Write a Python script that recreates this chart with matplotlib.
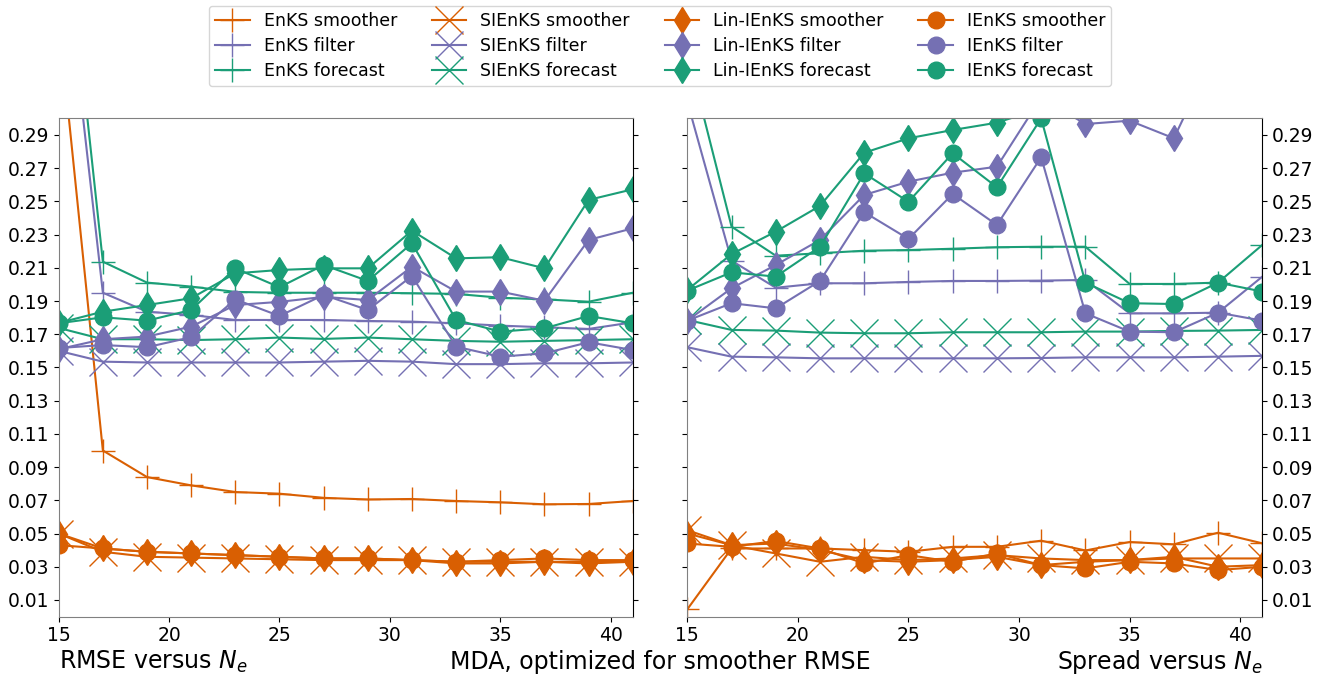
"""
Smoother / filter / forecast RMSE and spread versus ensemble size, MDA configuration.
"""
import matplotlib
matplotlib.use('Agg')
import matplotlib.pyplot as plt

# ensemble sizes on the x axis
ensemble_sizes = [15, 17, 19, 21, 23, 25, 27, 29, 31, 33, 35, 37, 39, 41]

# ---- RMSE (left panel) ----
enks_smoother_rmse = [0.360, 0.100, 0.084, 0.079, 0.075, 0.074, 0.0715, 0.0705, 0.0708, 0.0696, 0.0688, 0.0676, 0.0678, 0.0696]
enks_filter_rmse = [0.430, 0.195, 0.1836, 0.1816, 0.1786, 0.1786, 0.1786, 0.178, 0.1776, 0.1766, 0.1752, 0.1742, 0.1732, 0.1772]
enks_forecast_rmse = [0.460, 0.2137, 0.2011, 0.1987, 0.1955, 0.195, 0.195, 0.195, 0.1947, 0.1943, 0.192, 0.191, 0.1896, 0.195]

sienks_smoother_rmse = [0.050, 0.039, 0.036, 0.0355, 0.035, 0.0345, 0.034, 0.034, 0.034, 0.033, 0.033, 0.033, 0.033, 0.033]
sienks_filter_rmse = [0.160, 0.1535, 0.153, 0.153, 0.153, 0.153, 0.1535, 0.154, 0.1535, 0.152, 0.152, 0.1525, 0.1525, 0.153]
sienks_forecast_rmse = [0.1738, 0.167, 0.167, 0.1665, 0.167, 0.168, 0.1672, 0.168, 0.167, 0.166, 0.1655, 0.166, 0.1665, 0.167]

lin_ienks_smoother_rmse = [0.050, 0.041, 0.039, 0.038, 0.037, 0.036, 0.035, 0.035, 0.034, 0.032, 0.032, 0.033, 0.032, 0.033]
lin_ienks_filter_rmse = [0.161, 0.167, 0.1686, 0.1746, 0.1876, 0.1895, 0.1925, 0.1906, 0.2107, 0.1957, 0.1957, 0.1902, 0.2268, 0.2338]
lin_ienks_forecast_rmse = [0.1768, 0.1836, 0.1876, 0.1917, 0.2067, 0.2087, 0.2097, 0.2097, 0.2324, 0.2157, 0.2164, 0.2097, 0.2509, 0.2573]

ienks_smoother_rmse = [0.043, 0.041, 0.039, 0.038, 0.037, 0.036, 0.035, 0.035, 0.034, 0.033, 0.034, 0.035, 0.034, 0.034]
ienks_filter_rmse = [0.1617, 0.1635, 0.1622, 0.1682, 0.191, 0.181, 0.1937, 0.1846, 0.2051, 0.1625, 0.1565, 0.1585, 0.1652, 0.1605]
ienks_forecast_rmse = [0.1766, 0.1802, 0.1782, 0.1846, 0.2097, 0.1983, 0.2117, 0.2021, 0.2248, 0.1786, 0.1716, 0.1736, 0.181, 0.1766]

# ---- Spread (right panel) ----
enks_smoother_spread = [0.0044, 0.041, 0.041, 0.041, 0.040, 0.039, 0.042, 0.042, 0.0457, 0.0398, 0.0449, 0.0435, 0.0505, 0.0441]
enks_filter_spread = [0.310, 0.2143, 0.198, 0.2007, 0.2007, 0.2015, 0.2021, 0.2021, 0.2023, 0.2027, 0.1826, 0.1826, 0.183, 0.2047]
enks_forecast_spread = [0.340, 0.2348, 0.2173, 0.2188, 0.2203, 0.2207, 0.2215, 0.2224, 0.2227, 0.2227, 0.2003, 0.2003, 0.2011, 0.2238]

sienks_smoother_spread = [0.052, 0.043, 0.038, 0.033, 0.036, 0.034, 0.035, 0.037, 0.035, 0.034, 0.034, 0.035, 0.035, 0.035]
sienks_filter_spread = [0.1622, 0.1565, 0.1561, 0.1555, 0.1555, 0.1555, 0.1555, 0.1555, 0.1557, 0.1561, 0.1561, 0.1561, 0.1565, 0.157]
sienks_forecast_spread = [0.1786, 0.1726, 0.1722, 0.171, 0.1706, 0.1706, 0.1712, 0.1712, 0.1712, 0.1716, 0.1716, 0.172, 0.1722, 0.1726]

lin_ienks_smoother_spread = [0.050, 0.043, 0.044, 0.040, 0.034, 0.033, 0.034, 0.036, 0.031, 0.033, 0.034, 0.036, 0.030, 0.031]
lin_ienks_filter_spread = [0.1782, 0.1977, 0.2117, 0.2268, 0.2539, 0.2619, 0.2673, 0.2709, 0.3125, 0.2966, 0.2986, 0.288, 0.344, 0.345]
lin_ienks_forecast_spread = [0.1967, 0.2183, 0.2318, 0.2473, 0.2793, 0.288, 0.293, 0.2974, 0.306, 0.315, 0.320, 0.320, 0.330, 0.330]

ienks_smoother_spread = [0.044, 0.042, 0.0455, 0.041, 0.032, 0.037, 0.033, 0.038, 0.031, 0.029, 0.033, 0.032, 0.028, 0.030]
ienks_filter_spread = [0.1782, 0.1887, 0.1856, 0.2021, 0.2435, 0.2274, 0.2545, 0.2358, 0.2766, 0.1826, 0.1716, 0.1712, 0.183, 0.1782]
ienks_forecast_spread = [0.1963, 0.2073, 0.2047, 0.2227, 0.2669, 0.2498, 0.279, 0.2585, 0.300, 0.2011, 0.1887, 0.1882, 0.2011, 0.1957]

# colours for the three statistics (Dark2)
SMOOTHER_COLOR = '#d95f02'
FILTER_COLOR = '#7570b3'
FORECAST_COLOR = '#1b9e77'

# marker style per method
method_styles = {
    'EnKS': dict(marker='+', ms=17, mew=1.0),
    'SIEnKS': dict(marker='x', ms=20, mew=1.0),
    'Lin-IEnKS': dict(marker='d', ms=13.5, mew=1.0),
    'IEnKS': dict(marker='o', ms=12, mew=1.0),
}

rmse_series = {
    'EnKS': (enks_smoother_rmse, enks_filter_rmse, enks_forecast_rmse),
    'SIEnKS': (sienks_smoother_rmse, sienks_filter_rmse, sienks_forecast_rmse),
    'Lin-IEnKS': (lin_ienks_smoother_rmse, lin_ienks_filter_rmse, lin_ienks_forecast_rmse),
    'IEnKS': (ienks_smoother_rmse, ienks_filter_rmse, ienks_forecast_rmse),
}
spread_series = {
    'EnKS': (enks_smoother_spread, enks_filter_spread, enks_forecast_spread),
    'SIEnKS': (sienks_smoother_spread, sienks_filter_spread, sienks_forecast_spread),
    'Lin-IEnKS': (lin_ienks_smoother_spread, lin_ienks_filter_spread, lin_ienks_forecast_spread),
    'IEnKS': (ienks_smoother_spread, ienks_filter_spread, ienks_forecast_spread),
}

stat_names = ['smoother', 'filter', 'forecast']
stat_colors = [SMOOTHER_COLOR, FILTER_COLOR, FORECAST_COLOR]

fig = plt.figure(figsize=(13.31, 6.85), dpi=100)
ax_rmse = fig.add_axes([0.0441, 0.0999, 0.4313, 0.7273])
ax_spread = fig.add_axes([0.5164, 0.0999, 0.4320, 0.7273])


def draw_panel(ax, series):
    """Draw every method / statistic pair on one axis."""
    handles = []
    for method, values in series.items():
        style = method_styles[method]
        for name, color, vals in zip(stat_names, stat_colors, values):
            line, = ax.plot(ensemble_sizes, vals, color=color, lw=1.5,
                            marker=style['marker'], ms=style['ms'], mew=style['mew'],
                            label=f"{method} {name}")
            handles.append(line)
    return handles


handles = draw_panel(ax_rmse, rmse_series)
draw_panel(ax_spread, spread_series)

yticks = [0.01 + 0.02 * i for i in range(15)]
for ax in (ax_rmse, ax_spread):
    ax.set_xlim(15, 41)
    ax.set_ylim(0.0, 0.3)
    ax.set_xticks([15, 20, 25, 30, 35, 40])
    ax.set_yticks(yticks)
    ax.set_yticklabels([f"{t:.2f}" for t in yticks])
    ax.tick_params(labelsize=13.5, left=True, right=True)
    for side in ('left', 'top', 'bottom'):
        ax.spines[side].set_color('0.5')
    ax.spines['right'].set_color('black')

ax_rmse.tick_params(labelleft=True, labelright=False)
ax_spread.tick_params(labelleft=False, labelright=True)

# legend above both panels
fig.legend(handles=handles, loc='upper center', bbox_to_anchor=(0.496, 0.997),
           ncol=4, fontsize=12.5, labelspacing=0.42, borderpad=0.35, borderaxespad=0.2)

# panel captions along the bottom
fig.text(0.0441, 0.023, r"RMSE versus $N_e$", fontsize=17, ha='left', va='baseline')
fig.text(0.4959, 0.023, "MDA, optimized for smoother RMSE", fontsize=17, ha='center', va='baseline')
fig.text(0.9484, 0.023, r"Spread versus $N_e$", fontsize=17, ha='right', va='baseline')

fig.savefig('out.png', dpi=100)
